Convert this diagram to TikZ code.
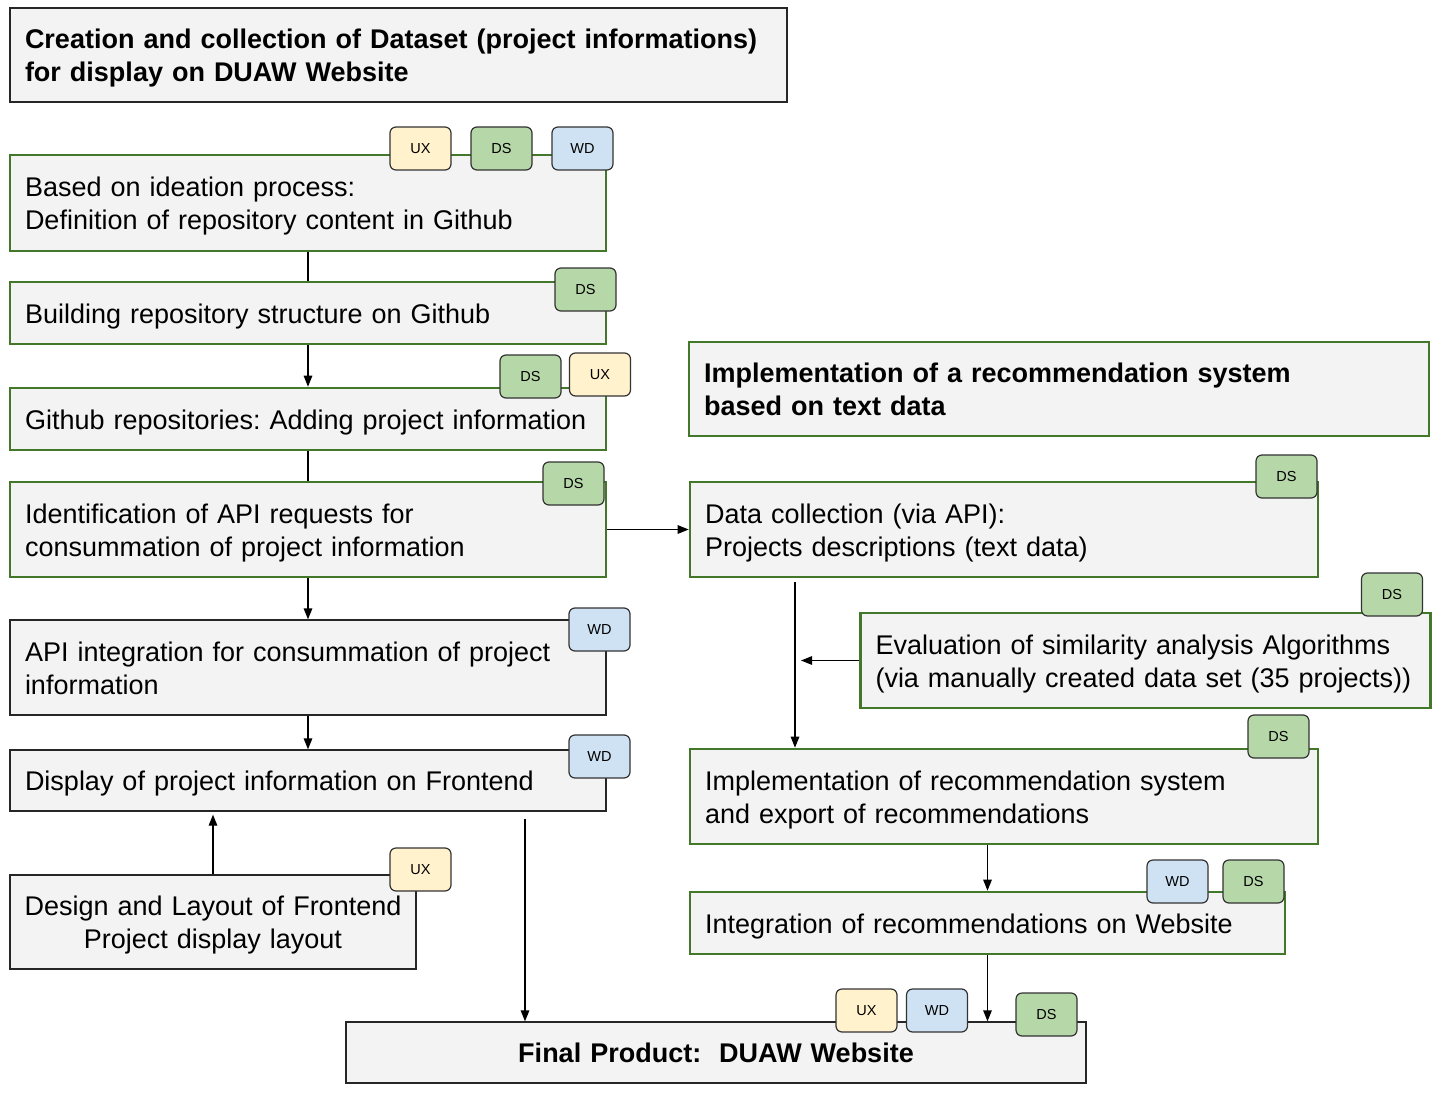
\documentclass[tikz,border=0pt]{standalone}
\usepackage{fontspec}
\setmainfont{Liberation Sans}
\usetikzlibrary{arrows.meta,calc}
\frenchspacing
\hyphenpenalty=10000
\definecolor{greenc}{HTML}{43782A}
\definecolor{grayf}{HTML}{F3F3F3}
\definecolor{uxc}{HTML}{FFF2CC}
\definecolor{dsc}{HTML}{B6D7A8}
\definecolor{wdc}{HTML}{CFE2F3}
\tikzset{
  box/.style={fill=grayf, font=\fontsize{27}{33}\selectfont, align=left, inner xsep=15pt, inner ysep=0pt,
    execute at begin node={\rule{0pt}{26pt}}, execute at end node={\rule[-6pt]{0pt}{0pt}}},
  gbox/.style={box, draw=greenc, line width=2.6pt},
  kbox/.style={box, draw=black!85, line width=1.3pt},
  tag/.style={draw=black!80, line width=1.2pt, rounded corners=6pt, minimum width=61pt, minimum height=43pt, inner sep=0pt, font=\fontsize{14.5}{16}\selectfont},
  ux/.style={tag, fill=uxc},
  ds/.style={tag, fill=dsc},
  wd/.style={tag, fill=wdc},
  conn/.style={line width=1.3pt, black},
  arr/.style={conn, -{Triangle[length=11pt,width=8.5pt]}}
}
\begin{document}
\begin{tikzpicture}[x=1pt,y=-1pt]
\useasboundingbox[fill=white] (0,0) rectangle (1440,1094);

% left column
\node[kbox, text width=747pt, minimum height=94pt, font=\fontsize{27}{33}\selectfont\bfseries] (t1) at (398.5,55) {Creation and collection of Dataset (project informations)\\for display on DUAW Website};
\node[gbox, text width=566pt, minimum height=96pt] (a) at (308,203) {Based on ideation process:\\Definition of repository content in Github};
\node[gbox, text width=566pt, minimum height=62pt] (b) at (308,313) {Building repository structure on Github};
\node[gbox, text width=566pt, minimum height=62pt] (c) at (308,419) {Github repositories: Adding project information};
\node[gbox, text width=566pt, minimum height=95pt] (d) at (308,529.5) {Identification of API requests for\\consummation of project information};
\node[kbox, text width=566pt, minimum height=95pt] (e) at (308,667.5) {API integration for consummation of project\\information};
\node[kbox, text width=566pt, minimum height=61pt] (f) at (308,780.5) {Display of project information on Frontend};
\node[kbox, text width=390pt, inner xsep=8pt, minimum height=94pt, align=center] (g) at (213,922) {Design and Layout of Frontend\\Project display layout};

% right column
\node[gbox, text width=710pt, minimum height=94pt, font=\fontsize{27}{33}\selectfont\bfseries] (t2) at (1059,389) {Implementation of a recommendation system\\based on text data};
\node[gbox, text width=598pt, minimum height=95pt] (h) at (1004,529.5) {Data collection (via API):\\Projects descriptions (text data)};
\node[gbox, text width=540pt, minimum height=95pt] (i) at (1145.5,660.5) {Evaluation of similarity analysis Algorithms\\(via manually created data set (35 projects))};
\node[gbox, text width=598pt, minimum height=95pt] (j) at (1004,796.5) {Implementation of recommendation system\\and export of recommendations};
\node[gbox, text width=565pt, minimum height=62pt] (k) at (987.5,923) {Integration of recommendations on Website};

% final
\node[kbox, text width=710pt, minimum height=61pt, align=center, font=\fontsize{27}{33}\selectfont\bfseries] (fin) at (716,1052.5) {Final Product:~~DUAW Website};

% connectors
\draw[conn] (a.south) -- (b.north);
\draw[arr] (b.south) -- (c.north);
\draw[conn] (c.south) -- (d.north);
\draw[arr] (d.south) -- (e.north);
\draw[arr] (e.south) -- (f.north);
\draw[arr] (g.north) -- ([yshift=-3pt]g.north |- f.south);
\coordinate (fs) at (525,819);
\draw[arr] (fs) -- (fs |- fin.north);
\draw[arr] (d.east) -- (h.west);
\coordinate (hs) at (795,582);
\draw[arr] (hs) -- (hs |- j.north);
\coordinate (ie) at (801,660.5);
\draw[arr] (i.west) -- (ie);
\draw[arr] (j.south -| k.north) -- (k.north);
\draw[arr] (k.south) -- (k.south |- fin.north);

% tags
\node[ux] (ta1) at (420.5,148.5) {UX};
\node[ds] (ta2) at (501.5,148.5) {DS};
\node[wd] (ta3) at (582.5,148.5) {WD};
\node[ds] (tb1) at (585.5,289.5) {DS};
\node[ds] (tc1) at (530.5,376.5) {DS};
\node[ux] (tc2) at (600,374.5) {UX};
\node[ds] (td1) at (573.5,483.5) {DS};
\node[wd] (te1) at (599.5,629.5) {WD};
\node[wd] (tf1) at (599.5,756.5) {WD};
\node[ux] (tg1) at (420.5,869.5) {UX};
\node[ds] (th1) at (1286.5,476.5) {DS};
\node[ds] (ti1) at (1392,594.5) {DS};
\node[ds] (tj1) at (1278.5,736.5) {DS};
\node[wd] (tk1) at (1177.5,881.5) {WD};
\node[ds] (tk2) at (1253.5,881.5) {DS};
\node[ux] (tf2) at (866.5,1010.5) {UX};
\node[wd] (tf3) at (937,1010.5) {WD};
\node[ds] (tf4) at (1046.5,1014.5) {DS};
\end{tikzpicture}
\end{document}
